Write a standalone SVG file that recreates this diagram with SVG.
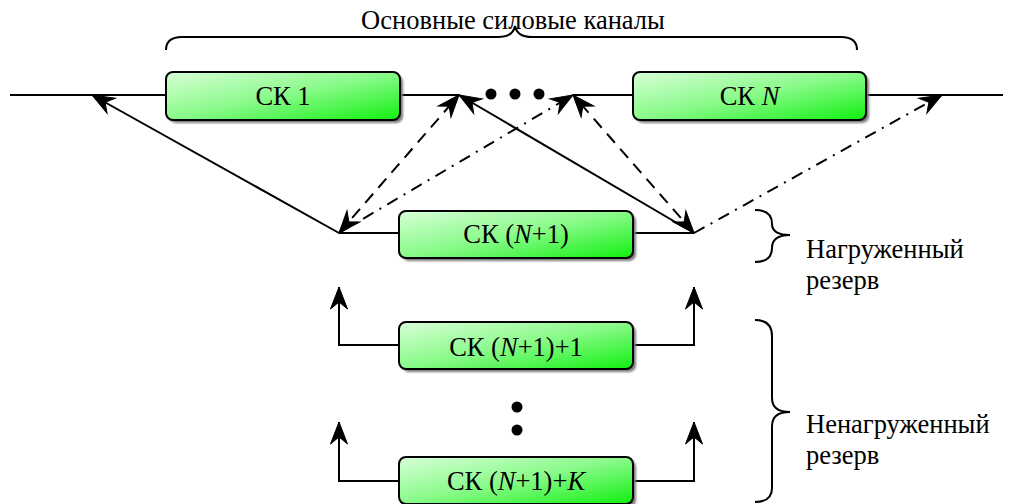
<svg xmlns="http://www.w3.org/2000/svg" width="1011" height="504" viewBox="0 0 1011 504">
<style>
.ln{fill:none;stroke:#000;stroke-width:2}
.dash{stroke-dasharray:12 8}
.dd{stroke-dasharray:12 7 2 7}
.box{stroke:#000;stroke-width:2;fill:url(#g)}
.sh{fill:#7a7a7a;filter:url(#blur)}
.t{font-family:"Liberation Serif","Times New Roman",serif;font-size:26.5px;fill:#000}
.c{text-anchor:middle}
.i{font-style:italic}
</style>
<defs>
<linearGradient id="g" x1="0" y1="0" x2="1" y2="1">
<stop offset="0" stop-color="#d8ffd8"/>
<stop offset="0.5" stop-color="#88fa88"/>
<stop offset="1" stop-color="#10f010"/>
</linearGradient>
<filter id="blur" x="-10%" y="-10%" width="120%" height="140%"><feGaussianBlur stdDeviation="1"/></filter>
<marker id="ah" markerUnits="userSpaceOnUse" viewBox="-25 -11 27 22" refX="0" refY="0" markerWidth="27" markerHeight="22" orient="auto-start-reverse">
<path d="M0,0 L-22,-8.5 L-15,0 L-22,8.5 Z" fill="#000" stroke="#000" stroke-width="1" stroke-linejoin="miter"/>
</marker>
</defs>

<g id="connectors">
<path class="ln" d="M10,95 H460 M573,95 H1003"/>
<path class="ln" d="M339,233 H400 M633,233 H694"/>
<path class="ln" d="M339,233 L92,95" marker-end="url(#ah)"/>
<path class="ln dash" d="M339,233 L459,95" marker-start="url(#ah)" marker-end="url(#ah)"/>
<path class="ln dd" d="M339,233 L573,95" marker-end="url(#ah)"/>
<path class="ln" d="M694,233 L459,95" marker-end="url(#ah)"/>
<path class="ln dash" d="M694,233 L573,95" marker-start="url(#ah)" marker-end="url(#ah)"/>
<path class="ln dd" d="M694,233 L942,95" marker-end="url(#ah)"/>
<path class="ln" d="M400,345 H339 V287" marker-end="url(#ah)"/>
<path class="ln" d="M633,345 H694 V287" marker-end="url(#ah)"/>
<path class="ln" d="M400,481 H339 V422" marker-end="url(#ah)"/>
<path class="ln" d="M633,481 H694 V422" marker-end="url(#ah)"/>
</g>

<g id="dots">
<circle cx="491" cy="94" r="5.5"/>
<circle cx="515" cy="94" r="5.5"/>
<circle cx="539" cy="94" r="5.5"/>
<circle cx="517" cy="407" r="5.5"/>
<circle cx="517" cy="430" r="5.5"/>
</g>

<g id="braces">
<path class="ln" stroke-width="1.6" d="M166,50 Q166,37 182,37 L498,37 Q513,37 515,26 Q517,37 532,37 L841,37 Q857,37 857,50"/>
<path class="ln" stroke-width="1.6" d="M755,210 Q772,210 772,224 Q772,235 790,235 Q772,235 772,248 Q772,262 755,262"/>
<path class="ln" stroke-width="1.6" d="M755,320 Q772,320 772,336 L772,398 Q772,412 790,412 Q772,412 772,426 L772,488 Q772,502 755,502"/>
</g>

<g id="title">
<text class="t c" x="513" y="29">Основные силовые каналы</text>
</g>

<g id="sk1">
<rect class="sh" x="169" y="75" width="234" height="48" rx="7"/>
<rect class="box" x="166" y="72" width="234" height="48" rx="7"/>
<text class="t c" x="283" y="105">СК 1</text>
</g>

<g id="skN">
<rect class="sh" x="636" y="75" width="233" height="48" rx="7"/>
<rect class="box" x="633" y="72" width="233" height="48" rx="7"/>
<text class="t c" x="749.5" y="105">СК <tspan class="i">N</tspan></text>
</g>

<g id="skN1">
<rect class="sh" x="402" y="214" width="234" height="47" rx="7"/>
<rect class="box" x="399" y="211" width="234" height="47" rx="7"/>
<text class="t c" x="516" y="243">СК (<tspan class="i">N</tspan>+1)</text>
</g>

<g id="skN1p1">
<rect class="sh" x="402" y="325" width="234" height="47" rx="7"/>
<rect class="box" x="399" y="322" width="234" height="47" rx="7"/>
<text class="t c" x="516" y="356">СК (<tspan class="i">N</tspan>+1)+1</text>
</g>

<g id="skN1pK">
<rect class="sh" x="402" y="460" width="234" height="47" rx="7"/>
<rect class="box" x="399" y="457" width="234" height="47" rx="7"/>
<text class="t c" x="516" y="490">СК (<tspan class="i">N</tspan>+1)+<tspan class="i">K</tspan></text>
</g>

<g id="loaded">
<text class="t" x="806" y="258">Нагруженный</text>
<text class="t" x="806" y="289">резерв</text>
</g>

<g id="unloaded">
<text class="t" x="806" y="433">Ненагруженный</text>
<text class="t" x="806" y="464">резерв</text>
</g>
</svg>
